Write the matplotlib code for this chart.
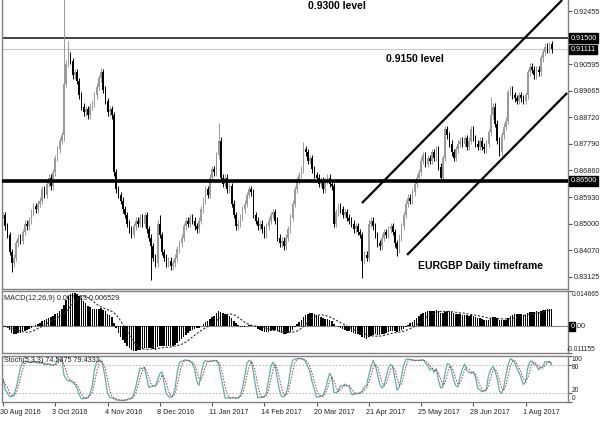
import matplotlib
matplotlib.use("Agg")
import matplotlib.pyplot as plt
import matplotlib.transforms as mtransforms
import numpy as np
import pandas as pd

# EURGBP daily closes, bar 0 = 30 Aug 2016
closes = [
    0.853, 0.849, 0.846, 0.840, 0.836, 0.838, 0.843, 0.845, 0.844, 0.847,
    0.850, 0.849, 0.851, 0.854, 0.856, 0.855, 0.857, 0.858, 0.862, 0.860,
    0.864, 0.866, 0.863, 0.868, 0.873, 0.876, 0.879, 0.881,
    0.899, 0.906, 0.909, 0.907,
    0.902, 0.903, 0.900, 0.895, 0.891, 0.889, 0.890, 0.888, 0.891, 0.892,
    0.895, 0.898, 0.901, 0.903, 0.897, 0.893, 0.889, 0.890, 0.888,
    0.868, 0.862, 0.860, 0.858, 0.855,
    0.853, 0.850, 0.848, 0.846, 0.849, 0.851, 0.850,
    0.852, 0.850, 0.853, 0.848, 0.845, 0.842, 0.838, 0.836,
    0.850, 0.846,
    0.840, 0.838, 0.836, 0.837, 0.835, 0.836, 0.838,
    0.841, 0.843, 0.845,
    0.849, 0.851, 0.850, 0.852, 0.851, 0.849, 0.848, 0.851, 0.855,
    0.858, 0.862, 0.860,
    0.866, 0.869, 0.868, 0.874, 0.879,
    0.866, 0.864, 0.866, 0.862, 0.863,
    0.857, 0.853, 0.849, 0.850,
    0.852, 0.855, 0.857, 0.860, 0.862, 0.861,
    0.853, 0.851, 0.849, 0.850,
    0.848, 0.846, 0.849, 0.851, 0.853, 0.854, 0.851,
    0.845, 0.843, 0.844, 0.842,
    0.845, 0.848,
    0.852, 0.857, 0.862, 0.865, 0.867, 0.869,
    0.876, 0.875,
    0.872, 0.873, 0.869, 0.867, 0.866, 0.864,
    0.865, 0.862, 0.865, 0.866, 0.864, 0.863,
    0.850,
    0.854, 0.856, 0.855, 0.853, 0.854, 0.852, 0.851, 0.850,
    0.848, 0.849, 0.847, 0.846,
    0.837,
    0.839, 0.838,
    0.850, 0.851, 0.849,
    0.846, 0.843, 0.842,
    0.845, 0.847, 0.846, 0.848, 0.849, 0.847,
    0.843, 0.841,
    0.845, 0.849, 0.853, 0.857, 0.859, 0.858,
    0.861, 0.864, 0.866, 0.868, 0.872,
    0.874, 0.871, 0.873, 0.872, 0.875, 0.873, 0.876,
    0.870, 0.866, 0.873, 0.883,
    0.881, 0.878, 0.875, 0.873, 0.876, 0.878,
    0.879, 0.878, 0.880, 0.877, 0.879, 0.883,
    0.880, 0.878, 0.877, 0.879, 0.877, 0.876, 0.878, 0.882,
    0.888, 0.891, 0.885, 0.879, 0.875,
    0.881, 0.884, 0.886, 0.896, 0.897,
    0.895, 0.894, 0.893, 0.895, 0.894, 0.893, 0.895,
    0.903, 0.905, 0.904, 0.902, 0.904,
    0.903, 0.908, 0.910, 0.912, 0.911, 0.913, 0.91111,
]

# bars whose wicks stick out further than usual
wick_highs = {28: 0.9450, 30: 0.9140, 45: 0.9045, 72: 0.8530, 99: 0.8852,
              138: 0.8786, 224: 0.8944, 251: 0.9137}
wick_lows = {4: 0.8330, 28: 0.8790, 68: 0.8303, 165: 0.8309, 181: 0.8385}
normal_wick = 0.0012

date_ticks = [0, 24, 48, 72, 96, 120, 144, 168, 192, 216, 240]
date_labels = ["30 Aug 2016", "3 Oct 2016", "4 Nov 2016", "8 Dec 2016",
               "11 Jan 2017", "14 Feb 2017", "20 Mar 2017", "21 Apr 2017",
               "25 May 2017", "28 Jun 2017", "1 Aug 2017"]

price_ticks = [0.92455, 0.90595, 0.89665, 0.88720, 0.87790, 0.86860,
               0.85930, 0.85000, 0.84070, 0.83125]
boxed_levels = [0.91500, 0.91111, 0.86500]
macd_range = (-0.011155, 0.014665)
stoch_levels = [100, 80, 20, 0]

# channel anchors (bar, price)
channel_upper = [(164.9, 0.8572), (256.8, 0.9284)]
channel_lower = [(185.6, 0.8390), (259.1, 0.8958)]

macd_text = "MACD(12,26,9) 0.007473 0.006529"
stoch_text = "Stoch(5,3,3) 74.5375 79.4333"

# ---- derived series ----
c = pd.Series(closes)
o = c.shift(1).fillna(c.iloc[0])
hi = np.maximum(o, c) + normal_wick
lo = np.minimum(o, c) - normal_wick
for k, v in wick_highs.items():
    hi[k] = v
for k, v in wick_lows.items():
    lo[k] = v

ema12 = c.ewm(span=12, adjust=False).mean()
ema26 = c.ewm(span=26, adjust=False).mean()
macd = ema12 - ema26
signal = macd.rolling(9, min_periods=1).mean()

hh = hi.rolling(5, min_periods=1).max()
ll = lo.rolling(5, min_periods=1).min()
stoch_k = 100 * (c - ll).rolling(3, min_periods=1).sum() / (hh - ll).rolling(3, min_periods=1).sum()
stoch_d = stoch_k.rolling(3, min_periods=1).mean()

n = len(closes)
x = np.arange(n)

W, H = 600, 436
fig = plt.figure(figsize=(6, 4.36), dpi=100)
plt.rcParams['font.family'] = ['Liberation Sans', 'DejaVu Sans']

def px_axes(top, bottom):
    return fig.add_axes([2 / W, 1 - bottom / H, 566 / W, (bottom - top) / H])

ax = px_axes(0, 289)
axm = px_axes(291, 353)
axs = px_axes(356, 402)

spine_col = '#808080'
tick_fs = 5.2
for a in (ax, axm, axs):
    for s in a.spines.values():
        s.set_color(spine_col)
        s.set_linewidth(1.0)
    a.yaxis.tick_right()
    a.tick_params(axis='y', direction='out', length=3, color='#555555',
                  labelsize=tick_fs, labelcolor='#222222', pad=1.5)
    a.set_xlim(-0.46, 259.5)
ax.spines['top'].set_visible(False)
ax.tick_params(axis='x', bottom=False, labelbottom=False)
axm.tick_params(axis='x', bottom=False, labelbottom=False)

# ---- candles ----
bull_col, bear_col = '#9a9a9a', '#000000'
up = (c >= o).values
body_lo = np.minimum(o, c).values
body_h = np.maximum(np.abs(c - o).values, 0.00025)
for mask, col in ((up, bull_col), (~up, bear_col)):
    ax.vlines(x[mask], lo.values[mask], hi.values[mask], color=col, lw=0.7, zorder=3)
    ax.bar(x[mask], body_h[mask], bottom=body_lo[mask], width=0.7, color=col,
           linewidth=0, zorder=4)

ax.set_ylim(0.82703, 0.92841)
ax.set_yticks(price_ticks)
ax.set_yticklabels([f"{v:.5f}" for v in price_ticks])

ax.axhline(0.915, color='#333333', lw=1.3, zorder=2)
ax.axhline(0.91111, color='#c8c8c8', lw=0.8, zorder=2)
ax.axhline(0.865, color='black', lw=2.6, zorder=5)

for (x1, y1), (x2, y2) in (channel_upper, channel_lower):
    ax.plot([x1, x2], [y1, y2], color='black', lw=1.6, zorder=5,
            solid_capstyle='butt')

trans_r = mtransforms.blended_transform_factory(ax.transAxes, ax.transData)
for v in boxed_levels:
    ax.text(1.004, v, f"{v:.5f}", transform=trans_r, ha='left', va='center',
            fontsize=tick_fs, color='white', zorder=6, clip_on=False,
            bbox=dict(boxstyle='square,pad=0.18', fc='black', ec='black'))

bold = dict(fontsize=7.5, fontweight='bold', color='black', transform=ax.transAxes,
            va='center', ha='left', zorder=7)
ax.text(0.541, 0.979, "0.9300 level", **bold)
ax.text(0.678, 0.796, "0.9150 level", **bold)
ax.text(0.735, 0.080, "EURGBP Daily timeframe", **bold)

# ---- MACD ----
axm.axhline(0, color='#888888', lw=0.8, zorder=1)
axm.bar(x, macd.values, width=0.7, color='black', linewidth=0, zorder=3)
axm.plot(x, signal.values, color='#333333', lw=0.8, ls=(0, (2, 1.5)), zorder=4)
axm.set_ylim(*macd_range)
axm.set_yticks(list(macd_range))
axm.set_yticklabels([])
trans_m = mtransforms.blended_transform_factory(axm.transAxes, axm.transData)
axm.text(1.007, macd_range[1], f"{macd_range[1]:.6f}", transform=trans_m,
         ha='left', va='top', fontsize=4.8, color='#222222', clip_on=False)
axm.text(0.9985, macd_range[0], f"{macd_range[0]:.6f}", transform=trans_m,
         ha='left', va='bottom', fontsize=4.8, color='#222222', clip_on=False)
axm.text(1.004, 0, "0", transform=trans_m, ha='left', va='center', fontsize=tick_fs,
         color='white', clip_on=False,
         bbox=dict(boxstyle='square,pad=0.15', fc='black', ec='black'))
axm.text(1.013, 0, ".00", transform=trans_m, ha='left', va='center',
         fontsize=tick_fs, color='#222222', clip_on=False)
axm.text(0.004, 0.93, macd_text, transform=axm.transAxes, ha='left', va='top',
         fontsize=tick_fs, color='#222222', zorder=2)

# ---- Stochastic ----
axs.axhline(80, color='#aaaaaa', lw=0.6, ls=(0, (2, 2)))
axs.axhline(20, color='#aaaaaa', lw=0.6, ls=(0, (2, 2)))
axs.plot(x, stoch_k.values, color='#5fb0ad', lw=0.9, zorder=3)
axs.plot(x, stoch_d.values, color='#a03838', lw=0.7, ls=(0, (1.5, 1.5)), zorder=4)
axs.set_ylim(0, 100)
axs.set_yticks(stoch_levels)
axs.set_yticklabels([])
trans_s = mtransforms.blended_transform_factory(axs.transAxes, axs.transData)
label_y = {100: (99, 'top'), 80: (76, 'center'), 20: (24, 'center'), 0: (7, 'center')}
for val in stoch_levels:
    yv, va = label_y[val]
    axs.text(1.007, yv, str(val), transform=trans_s, ha='left', va=va,
             fontsize=4.8, color='#222222', clip_on=False)
axs.text(0.004, 0.97, stoch_text, transform=axs.transAxes, ha='left', va='top',
         fontsize=tick_fs, color='#222222', zorder=5)

axs.set_xticks(date_ticks)
axs.set_xticklabels(date_labels, ha='left')
axs.tick_params(axis='x', direction='out', length=3, color='#555555',
                labelsize=tick_fs, labelcolor='#222222', pad=2)
shift = mtransforms.ScaledTranslation(-3 / 100, 0, fig.dpi_scale_trans)
for lab in axs.get_xticklabels():
    lab.set_transform(lab.get_transform() + shift)

fig.savefig("out.png", dpi=100, facecolor='white')
